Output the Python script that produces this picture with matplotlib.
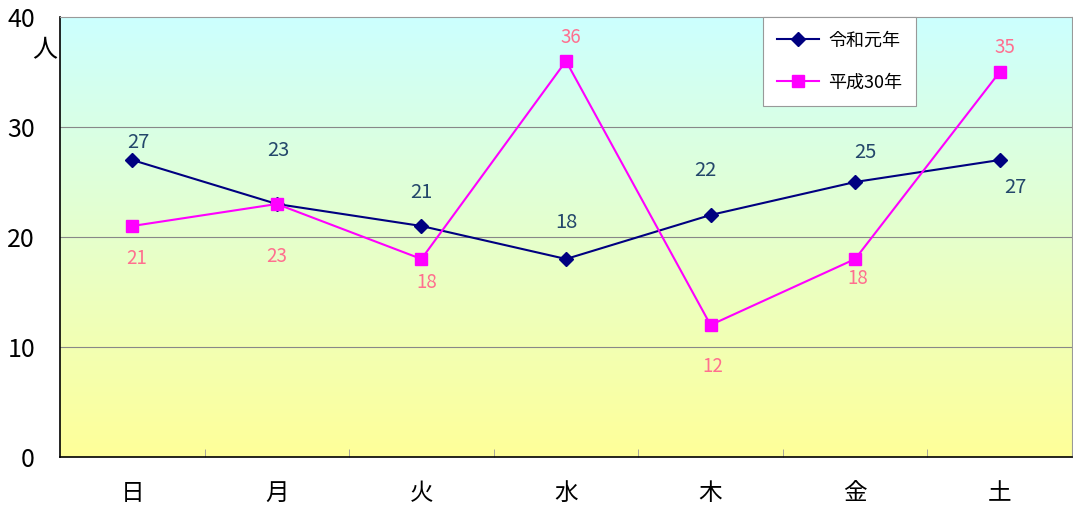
import numpy as np
import matplotlib.pyplot as plt
from matplotlib.colors import LinearSegmentedColormap

plt.rcParams['font.family'] = ['Noto Sans CJK JP', 'DejaVu Sans']

days = ['日', '月', '火', '水', '木', '金', '土']
reiwa1 = [27, 23, 21, 18, 22, 25, 27]
heisei30 = [21, 23, 18, 36, 12, 18, 35]

# label offsets in pixels (dx, dy)
off_r = [(6, 17), (1, 54), (0, 34), (0, 36), (-5, 45), (10, 29), (16, -28)]
off_h = [(4, -33), (0, -53), (5, -24), (5, 23), (2, -42), (3, -20), (5, 24)]

fig = plt.figure(figsize=(10.73, 5.08), dpi=100)
ax = fig.add_axes([60/1073, 51/508, 1012/1073, 440/508])

x = np.arange(len(days))
cmap = LinearSegmentedColormap.from_list('bg', ['#FFFF99', '#CCFFFF'])
grad = np.linspace(0, 1, 256).reshape(-1, 1)
ax.imshow(grad, extent=(-0.5, 6.5, 0, 40), origin='lower', aspect='auto',
          cmap=cmap, zorder=0)

for yv in [10, 20, 30]:
    ax.axhline(yv, color='#888888', lw=0.8, zorder=1)

ax.plot(x, reiwa1, color='#000080', marker='D', ms=7, lw=1.5, label='令和元年', zorder=3)
ax.plot(x, heisei30, color='#FF00FF', marker='s', ms=8, lw=1.5, label='平成30年', zorder=3)

for i in range(len(days)):
    ax.annotate(str(reiwa1[i]), (x[i], reiwa1[i]), xytext=off_r[i],
                textcoords='offset pixels', ha='center', va='center',
                fontsize=14.5, color='#24476B', zorder=4)
    ax.annotate(str(heisei30[i]), (x[i], heisei30[i]), xytext=off_h[i],
                textcoords='offset pixels', ha='center', va='center',
                fontsize=13.5, color='#FF6F8F', zorder=4)

ax.set_xlim(-0.5, 6.5)
ax.set_ylim(0, 40)
ax.set_xticks(x)
ax.set_xticklabels(days, fontsize=17)
ax.set_xticks(np.arange(0.5, 6.5, 1), minor=True)
ax.tick_params(axis='x', which='major', length=0, pad=18)
ax.tick_params(axis='x', which='minor', direction='in', length=6, color='#999999')
ax.set_yticks([0, 10, 20, 30, 40])
ax.tick_params(axis='y', length=0, labelsize=18, pad=18)

for s in ['top', 'right']:
    ax.spines[s].set_color('#999999')
for s in ['left', 'bottom']:
    ax.spines[s].set_color('black')
    ax.spines[s].set_linewidth(1.2)

fig.text(45/1073, 1 - 50/508, '人', fontsize=18, ha='center', va='center')

leg = ax.legend(loc='upper left', bbox_to_anchor=(703/1012, 1.0), fontsize=13,
                frameon=True, fancybox=False, borderpad=0.8, labelspacing=1.35,
                handlelength=2.3, handletextpad=0.5, borderaxespad=0, framealpha=1)
leg.get_frame().set_edgecolor('#999999')
leg.get_frame().set_linewidth(0.8)

fig.savefig('out.png', dpi=100)
